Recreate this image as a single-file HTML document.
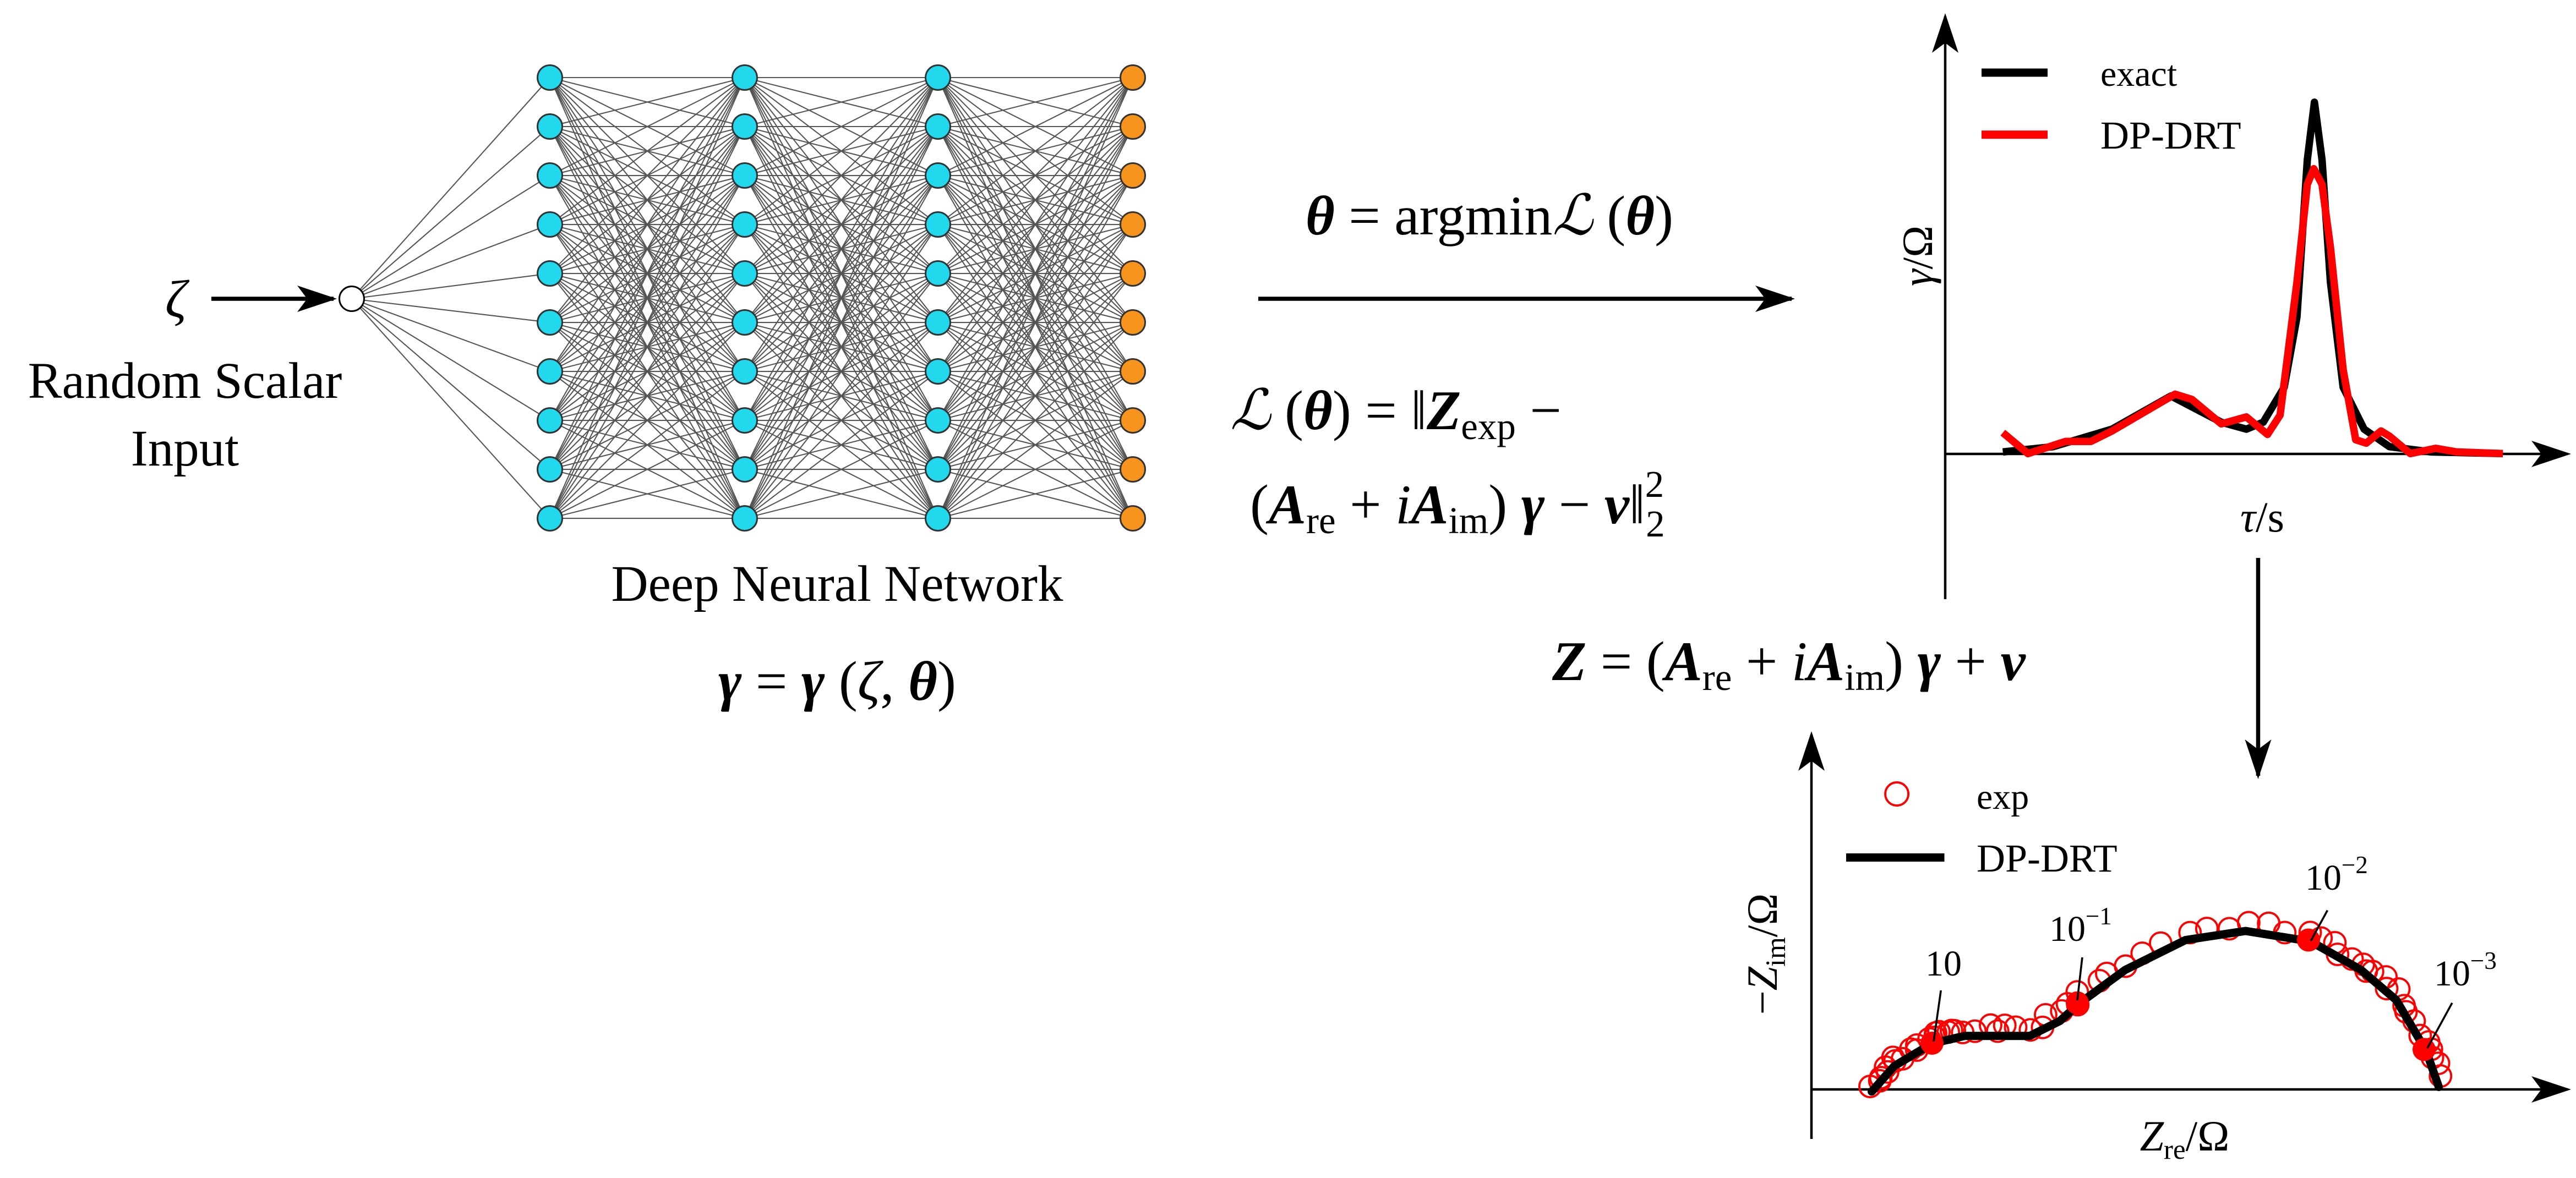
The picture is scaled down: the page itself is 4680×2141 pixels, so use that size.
<!DOCTYPE html>
<html><head><meta charset="utf-8"><style>
html,body{margin:0;padding:0;background:#fff;}
svg{display:block;font-family:"Liberation Serif","Noto Serif CJK SC","DejaVu Serif",serif;}
svg text, svg tspan{font-family:"Liberation Serif","Noto Serif CJK SC","DejaVu Serif",serif;}
text{fill:#000;}
.i{font-style:italic;}
.b{font-weight:bold;}
</style></head><body>
<svg id="s" width="4680" height="2141" viewBox="0 0 1560 713.67" xmlns="http://www.w3.org/2000/svg">
<defs>
<marker id="ah" viewBox="0 0 24 16" refX="22" refY="8" markerWidth="24" markerHeight="16" markerUnits="userSpaceOnUse" orient="auto">
<path d="M0,0 L24,8 L0,16 L6,8 Z" fill="#000"/></marker>
</defs>
<g id="net" stroke="#555" stroke-width="0.7"></g>
<g id="nodes"></g>

<text x="100" y="192" font-size="32" class="i">ζ</text>
<line x1="128" y1="181" x2="202" y2="181" stroke="#000" stroke-width="2.5" marker-end="url(#ah)"/>
<text x="112" y="241" font-size="31" text-anchor="middle">Random Scalar</text>
<text x="112" y="282" font-size="31" text-anchor="middle">Input</text>
<text x="507" y="364" font-size="31" text-anchor="middle">Deep Neural Network</text>
<text x="507" y="424" font-size="34" text-anchor="middle"><tspan class="i b">γ</tspan> = <tspan class="i b">γ</tspan> (<tspan class="i">ζ</tspan>, <tspan class="i b">θ</tspan>)</text>

<text x="902" y="142" font-size="34" text-anchor="middle"><tspan class="i b">θ</tspan> = argmin<tspan class="i">ℒ</tspan> (<tspan class="i b">θ</tspan>)</text>
<line x1="762" y1="181" x2="1085" y2="181" stroke="#000" stroke-width="2.5" marker-end="url(#ah)"/>
<text x="745" y="260" font-size="34"><tspan class="i">ℒ</tspan> (<tspan class="i b">θ</tspan>) = ‖<tspan class="i b">Z</tspan><tspan font-size="23" dy="6">exp</tspan><tspan dy="-6"> −</tspan></text>
<text x="757" y="317" font-size="34">(<tspan class="i b">A</tspan><tspan font-size="23" dy="6">re</tspan><tspan dy="-6"> + </tspan><tspan class="i">i</tspan><tspan class="i b">A</tspan><tspan font-size="23" dy="6">im</tspan><tspan dy="-6">) </tspan><tspan class="i b">γ</tspan> − <tspan class="i b">v</tspan>‖<tspan font-size="23" dy="-16">2</tspan><tspan font-size="23" dx="-11" dy="24">2</tspan></text>
<text x="940" y="412" font-size="34"><tspan class="i b">Z</tspan> = (<tspan class="i b">A</tspan><tspan font-size="23" dy="6">re</tspan><tspan dy="-6"> + </tspan><tspan class="i">i</tspan><tspan class="i b">A</tspan><tspan font-size="23" dy="6">im</tspan><tspan dy="-6">) </tspan><tspan class="i b">γ</tspan> + <tspan class="i b">v</tspan></text>
<line x1="1367.5" y1="338" x2="1367.5" y2="470" stroke="#000" stroke-width="2.5" marker-end="url(#ah)"/>

<line x1="1178" y1="363" x2="1178" y2="10" stroke="#000" stroke-width="1.5" marker-end="url(#ah)"/>
<line x1="1178" y1="275" x2="1555" y2="275" stroke="#000" stroke-width="1.5" marker-end="url(#ah)"/>
<polyline fill="none" stroke="#000" stroke-width="4.5" stroke-linejoin="round" points="1212.9,273.8 1243.4,270.6 1279,260 1314.7,239.9 1345.2,255.8 1360.4,260 1370.6,255.8 1383.3,234.6 1391,192.2 1397.3,96.8 1401.6,61.9 1406.2,96.8 1411.3,171 1419,234.6 1431.7,260 1447,270.6 1472.4,273.8 1515.7,274.8"/>
<polyline fill="none" stroke="#f00" stroke-width="4.5" stroke-linejoin="round" points="1212.9,262.1 1228.1,274.8 1251,267.4 1266.3,267.4 1279,261.1 1317.2,238.8 1327.4,242 1345.2,256.8 1360.4,252.6 1373.2,263.2 1380.8,251.5 1391,171 1397.3,111.7 1401.2,102.2 1406.2,111.7 1411.3,149.8 1419,224 1426.6,266.4 1433,268.5 1441.9,261.1 1447,264.2 1459.7,274.8 1475,271.6 1487.7,273.8 1515.7,274.8"/>
<line x1="1200" y1="44" x2="1240" y2="44" stroke="#000" stroke-width="5"/>
<text x="1272" y="52" font-size="22">exact</text>
<line x1="1200" y1="81.6" x2="1240" y2="81.6" stroke="#f00" stroke-width="5"/>
<text x="1272" y="90" font-size="24">DP-DRT</text>
<text transform="translate(1170,155) rotate(-90)" font-size="26" text-anchor="middle"><tspan class="i">γ</tspan>/Ω</text>
<text x="1370" y="322" font-size="26" text-anchor="middle"><tspan class="i">τ</tspan>/s</text>

<line x1="1097" y1="690" x2="1097" y2="445" stroke="#000" stroke-width="1.5" marker-end="url(#ah)"/>
<line x1="1097" y1="660" x2="1555" y2="660" stroke="#000" stroke-width="1.5" marker-end="url(#ah)"/>
<g id="circ" fill="none" stroke="#f00" stroke-width="1.3"></g>
<polyline id="nyq" fill="none" stroke="#000" stroke-width="5" stroke-linejoin="round" stroke-linecap="round" points="1133.5,661.3 1147.2,645.8 1170,632.2 1189.7,627.6 1229.2,627.6 1247.5,618.5 1259.6,607.6 1287,587.6 1323.5,569.5 1359.9,564 1399.4,570.4 1429.8,587.6 1451.1,605.8 1469.3,636.7 1476.9,658.5"/>
<g fill="#f00"><circle cx="1170" cy="632" r="7"/><circle cx="1258" cy="607.6" r="7"/><circle cx="1398" cy="569.5" r="7"/><circle cx="1468" cy="635.8" r="7"/></g>
<g stroke="#000" stroke-width="1.2">
<line x1="1175.4" y1="600" x2="1171" y2="631"/>
<line x1="1261" y1="580" x2="1258" y2="606"/>
<line x1="1409.5" y1="551.5" x2="1399.4" y2="570"/>
<line x1="1485" y1="607.6" x2="1470" y2="635"/>
</g>
<text x="1166" y="591" font-size="22">10</text>
<text x="1241" y="570" font-size="22">10<tspan font-size="15" dy="-10">−1</tspan></text>
<text x="1396" y="539" font-size="22">10<tspan font-size="15" dy="-10">−2</tspan></text>
<text x="1474" y="597" font-size="22">10<tspan font-size="15" dy="-10">−3</tspan></text>
<circle cx="1148.7" cy="481" r="7" fill="none" stroke="#f00" stroke-width="1.3"/>
<text x="1197" y="490" font-size="22">exp</text>
<line x1="1118" y1="519.5" x2="1177.5" y2="519.5" stroke="#000" stroke-width="5"/>
<text x="1197" y="528" font-size="24">DP-DRT</text>
<text transform="translate(1076,578) rotate(-90)" font-size="26" text-anchor="middle">−<tspan class="i">Z</tspan><tspan font-size="17" dy="5">im</tspan><tspan dy="-5">/Ω</tspan></text>
<text x="1323" y="697" font-size="26" text-anchor="middle"><tspan class="i">Z</tspan><tspan font-size="17" dy="5">re</tspan><tspan dy="-5">/Ω</tspan></text>
</svg>
<script>
var NS="http://www.w3.org/2000/svg";
var net=document.getElementById("net"),nodes=document.getElementById("nodes");
var xs=[333,451,568,686],ys=[];for(var i=0;i<10;i++)ys.push(47+i*29.67);
function L(x1,y1,x2,y2){var l=document.createElementNS(NS,"line");l.setAttribute("x1",x1);l.setAttribute("y1",y1);l.setAttribute("x2",x2);l.setAttribute("y2",y2);net.appendChild(l);}
function C(g,x,y,r,f,s,w){var c=document.createElementNS(NS,"circle");c.setAttribute("cx",x);c.setAttribute("cy",y);c.setAttribute("r",r);c.setAttribute("fill",f);c.setAttribute("stroke",s);c.setAttribute("stroke-width",w);g.appendChild(c);}
ys.forEach(function(y){L(213,181,333,y);});
for(var k=0;k<3;k++)for(var a=0;a<10;a++)for(var b=0;b<10;b++)L(xs[k],ys[a],xs[k+1],ys[b]);
C(nodes,213,181,7.5,"#fff","#000",1);
for(var k=0;k<4;k++)for(var a=0;a<10;a++)C(nodes,xs[k],ys[a],7.5,k==3?"#f7941d":"#22d8ec","#333",1);
var p=document.getElementById("nyq").getAttribute("points").trim().split(/\s+/).map(function(s){return s.split(",").map(Number);});
var circ=document.getElementById("circ");
var seed=3;function rnd(){seed=(seed*9301+49297)%233280;return seed/233280;}
for(var i=0;i<p.length-1;i++){var n=i<4?6:(i>9?5:3);for(var j=0;j<n;j++){var t=j/n;var x=p[i][0]+(p[i+1][0]-p[i][0])*t,y=p[i][1]+(p[i+1][1]-p[i][1])*t;C(circ,x+(rnd()-0.5)*6,y-2-(rnd())*5,6.5,"none","#f00",1.3);}}
</script>
</body></html>
